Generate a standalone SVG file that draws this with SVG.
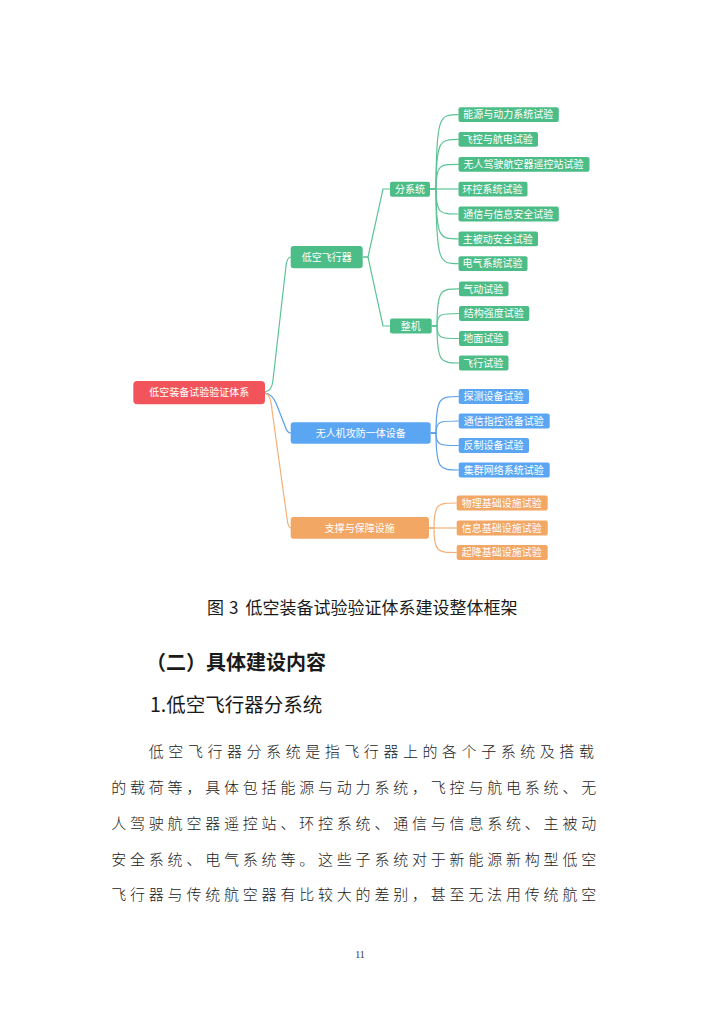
<svg xmlns="http://www.w3.org/2000/svg" width="724" height="1024" viewBox="0 0 724 1024">
<style>
.bg{fill:#ffffff}
.g{fill:#4dbd88}
.b{fill:#5ba6f3}
.o{fill:#f2a765}
.r{fill:#f2545b}
.nt{font-family:"Noto Sans CJK SC","Noto Sans",sans-serif;font-size:10px;fill:#ffffff;text-anchor:middle}
.cg{fill:none;stroke:#5bc394;stroke-width:1.2}
.cb{fill:none;stroke:#5b9fe8;stroke-width:1.2}
.co{fill:none;stroke:#f2b077;stroke-width:1.2}
.cap{font-family:"Noto Sans CJK SC",sans-serif;font-size:17px;fill:#1a1a1a}
.h1{font-family:"Noto Sans CJK SC",sans-serif;font-size:20px;font-weight:bold;fill:#1a1a1a}
.h2{font-family:"Noto Sans CJK SC",sans-serif;font-size:19.5px;fill:#1a1a1a}
.body{font-family:"Noto Sans CJK SC",sans-serif;font-size:15px;font-weight:300;fill:#1a1a1a}
.pg{font-family:"Liberation Serif",serif;font-size:10px;fill:#333;text-anchor:middle}
</style>
<rect class="bg" x="0" y="0" width="724" height="1024"/>

<g id="connectors">
  <path class="cg" d="M265,392 Q272,391 273,380 L286,266 Q287,257 291,257"/>
  <path class="cb" d="M265,393 Q272,394 276,403 L285,426 Q287,433 291,433"/>
  <path class="co" d="M265,393 Q271,395 272,410 L287,518 Q288,528 291,528"/>
  <path class="cg" d="M363,257 H368 L383,189 H390"/>
  <path class="cg" d="M363,257 H368 L383,326 H390"/>
  <path class="cg" d="M430,189 H436 C436,114.6 440,114.6 458.5,114.6"/>
  <path class="cg" d="M430,189 H436 C436,139.45 440,139.45 458.5,139.45"/>
  <path class="cg" d="M430,189 H436 C436,164.3 440,164.3 458.5,164.3"/>
  <path class="cg" d="M430,189 H458.5"/>
  <path class="cg" d="M430,189 H436 C436,214 440,214 458.5,214"/>
  <path class="cg" d="M430,189 H436 C436,238.85 440,238.85 458.5,238.85"/>
  <path class="cg" d="M430,189 H436 C436,263.7 440,263.7 458.5,263.7"/>
  <path class="cg" d="M431.7,326 H437 C437,288.8 441,288.8 459,288.8"/>
  <path class="cg" d="M431.7,326 H437 C437,313.5 441,313.5 459,313.5"/>
  <path class="cg" d="M431.7,326 H437 C437,338.5 441,338.5 459,338.5"/>
  <path class="cg" d="M431.7,326 H437 C437,363 441,363 459,363"/>
  <path class="cb" d="M430.7,433 H436 C436,396.5 440,396.5 458.7,396.5"/>
  <path class="cb" d="M430.7,433 H436 C436,421 440,421 458.7,421"/>
  <path class="cb" d="M430.7,433 H436 C436,445.5 440,445.5 458.7,445.5"/>
  <path class="cb" d="M430.7,433 H436 C436,470 440,470 458.7,470"/>
  <path class="co" d="M429,528 H434 C434,503 438,503 456.7,503"/>
  <path class="co" d="M429,528 H456.7"/>
  <path class="co" d="M429,528 H434 C434,552.5 438,552.5 456.7,552.5"/>
</g>

<g id="root">
  <rect class="r" x="133.3" y="381" width="131.7" height="23.3" rx="4"/>
  <text class="nt" x="199.2" y="396.4">低空装备试验验证体系</text>
</g>

<g id="n-feixingqi">
  <rect class="g" x="290.7" y="246" width="72" height="22.3" rx="3"/>
  <text class="nt" x="326.7" y="260.9">低空飞行器</text>
</g>
<g id="n-wurenji">
  <rect class="b" x="290.7" y="422.3" width="140" height="21.4" rx="3"/>
  <text class="nt" x="360.7" y="436.7">无人机攻防一体设备</text>
</g>
<g id="n-zhicheng">
  <rect class="o" x="290.7" y="517" width="138.3" height="21.7" rx="3"/>
  <text class="nt" x="359.8" y="531.6">支撑与保障设施</text>
</g>

<g id="n-fenxitong">
  <rect class="g" x="390" y="181.7" width="40" height="15" rx="2"/>
  <text class="nt" x="410" y="192.9">分系统</text>
</g>
<g id="n-zhengji">
  <rect class="g" x="390" y="318.5" width="41.7" height="15" rx="2"/>
  <text class="nt" x="410.8" y="329.7">整机</text>
</g>

<g id="leaf-1"><rect class="g" x="458.5" y="107.2" width="100.3" height="14.8" rx="2"/><text class="nt" x="508.2" y="118.3">能源与动力系统试验</text></g>
<g id="leaf-2"><rect class="g" x="458.5" y="132.05" width="79.5" height="14.8" rx="2"/><text class="nt" x="497.8" y="143.15">飞控与航电试验</text></g>
<g id="leaf-3"><rect class="g" x="458.5" y="156.9" width="131" height="14.8" rx="2"/><text class="nt" x="523.5" y="168">无人驾驶航空器遥控站试验</text></g>
<g id="leaf-4"><rect class="g" x="458.5" y="181.75" width="69" height="14.8" rx="2"/><text class="nt" x="492.5" y="192.85">环控系统试验</text></g>
<g id="leaf-5"><rect class="g" x="458.5" y="206.6" width="100.3" height="14.8" rx="2"/><text class="nt" x="508.2" y="217.7">通信与信息安全试验</text></g>
<g id="leaf-6"><rect class="g" x="458.5" y="231.45" width="79.5" height="14.8" rx="2"/><text class="nt" x="497.8" y="242.55">主被动安全试验</text></g>
<g id="leaf-7"><rect class="g" x="458.5" y="256.3" width="69" height="14.8" rx="2"/><text class="nt" x="492.5" y="267.4">电气系统试验</text></g>

<g id="leaf-8"><rect class="g" x="459" y="281.4" width="49.5" height="14.8" rx="2"/><text class="nt" x="483.3" y="292.5">气动试验</text></g>
<g id="leaf-9"><rect class="g" x="459" y="306.1" width="70.3" height="14.8" rx="2"/><text class="nt" x="493.7" y="317.2">结构强度试验</text></g>
<g id="leaf-10"><rect class="g" x="459" y="331.1" width="49.5" height="14.8" rx="2"/><text class="nt" x="483.3" y="342.2">地面试验</text></g>
<g id="leaf-11"><rect class="g" x="459" y="355.6" width="49.5" height="14.8" rx="2"/><text class="nt" x="483.3" y="366.7">飞行试验</text></g>

<g id="leaf-12"><rect class="b" x="458.7" y="389.1" width="70.3" height="14.8" rx="2"/><text class="nt" x="493.4" y="400.2">探测设备试验</text></g>
<g id="leaf-13"><rect class="b" x="458.7" y="413.6" width="91" height="14.8" rx="2"/><text class="nt" x="503.7" y="424.7">通信指控设备试验</text></g>
<g id="leaf-14"><rect class="b" x="458.7" y="438.1" width="70.3" height="14.8" rx="2"/><text class="nt" x="493.4" y="449.2">反制设备试验</text></g>
<g id="leaf-15"><rect class="b" x="458.7" y="462.6" width="91" height="14.8" rx="2"/><text class="nt" x="503.7" y="473.7">集群网络系统试验</text></g>

<g id="leaf-16"><rect class="o" x="456.7" y="495.6" width="91" height="14.8" rx="2"/><text class="nt" x="501.7" y="506.7">物理基础设施试验</text></g>
<g id="leaf-17"><rect class="o" x="456.7" y="520.6" width="91" height="14.8" rx="2"/><text class="nt" x="501.7" y="531.7">信息基础设施试验</text></g>
<g id="leaf-18"><rect class="o" x="456.7" y="545.1" width="91" height="14.8" rx="2"/><text class="nt" x="501.7" y="556.2">起降基础设施试验</text></g>

<g id="page-text">
  <text class="cap" y="614.3"><tspan x="207">图</tspan><tspan x="229">3</tspan><tspan x="245.5">低空装备试验验证体系建设整体框架</tspan></text>
  <text class="h1" x="146" y="669.5">（二）具体建设内容</text>
  <text class="h2" x="150" y="712">1.低空飞行器分系统</text>
  <text class="body" x="148.8" y="756.5" letter-spacing="4.55">低空飞行器分系统是指飞行器上的各个子系统及搭载</text>
  <text class="body" x="111.2" y="792.5" letter-spacing="3.8">的载荷等，具体包括能源与动力系统，飞控与航电系统、无</text>
  <text class="body" x="111.2" y="828.5" letter-spacing="3.8">人驾驶航空器遥控站、环控系统、通信与信息系统、主被动</text>
  <text class="body" x="111.2" y="864.5" letter-spacing="3.8">安全系统、电气系统等。这些子系统对于新能源新构型低空</text>
  <text class="body" x="111.2" y="900" letter-spacing="3.8">飞行器与传统航空器有比较大的差别，甚至无法用传统航空</text>
  <text class="pg" x="360" y="958">11</text>
</g>
</svg>
